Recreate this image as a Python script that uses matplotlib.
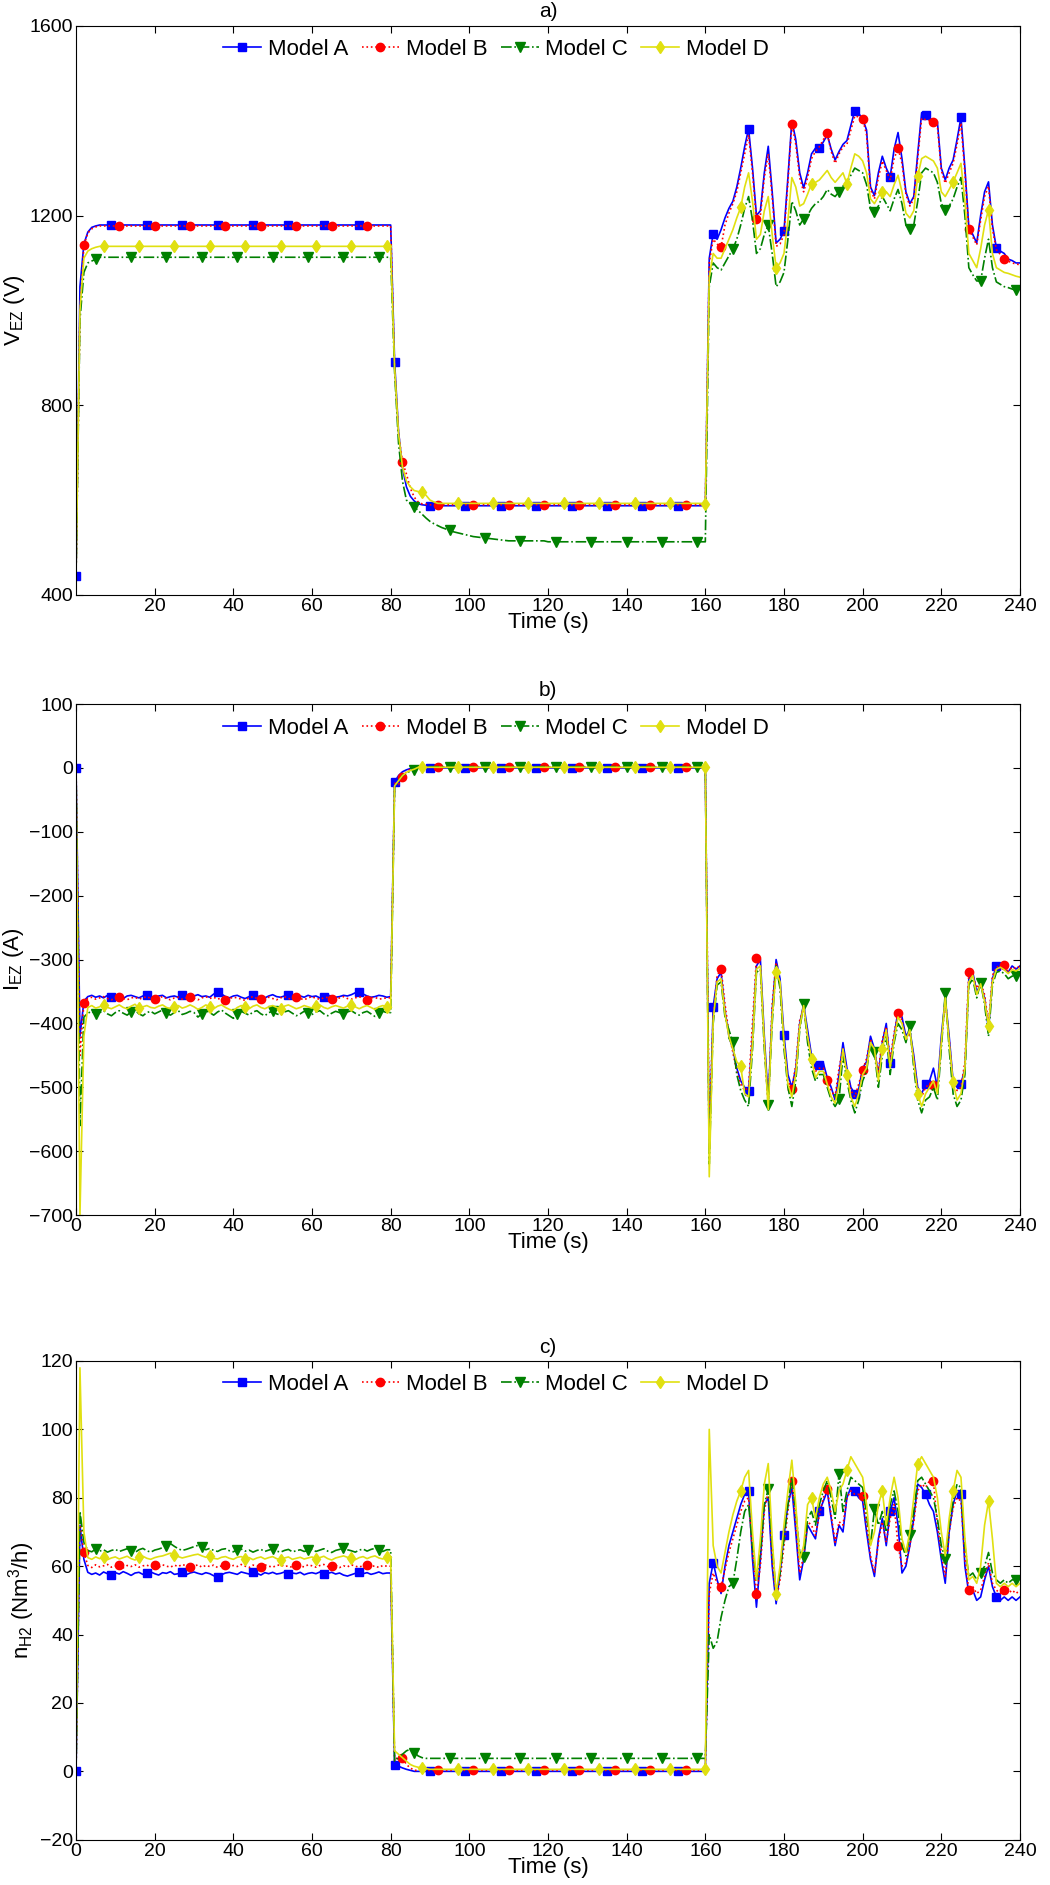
import matplotlib
matplotlib.use("Agg")
import matplotlib.pyplot as plt
import numpy as np

plt.rcParams['font.family'] = ['Liberation Sans', 'DejaVu Sans']
plt.rcParams['mathtext.fontset'] = 'custom'
plt.rcParams['mathtext.rm'] = 'Liberation Sans'
plt.rcParams['mathtext.it'] = 'Liberation Sans:italic'

# time grid, 1 s steps
time = np.arange(0, 241)

models = ['Model A', 'Model B', 'Model C', 'Model D']

# ---------------- a) stack voltage V_EZ (V) ----------------
va_A = ([440, 1050, 1140, 1165, 1175, 1178] + [1180] * 74
        + [1180, 892, 745, 668, 628, 608, 598, 592, 590, 589] + [588] * 70
        + [588, 1110, 1162, 1150, 1170, 1195, 1215, 1230, 1260, 1300,
           1345, 1383, 1300, 1200, 1210, 1290, 1346, 1250, 1142, 1150,
           1167, 1280, 1400, 1360, 1290, 1258, 1290, 1330, 1342, 1343,
           1355, 1370, 1340, 1317, 1335, 1350, 1358, 1390, 1421, 1415,
           1404, 1380, 1260, 1242, 1290, 1325, 1300, 1282, 1340, 1375,
           1320, 1250, 1225, 1240, 1330, 1417, 1412, 1405, 1400, 1398,
           1300, 1275, 1300, 1317, 1360, 1407, 1300, 1175, 1160, 1142,
           1200, 1250, 1271, 1180, 1132, 1125, 1120, 1108, 1105, 1100,
           1100])
va_B = ([440, 1000, 1137, 1163, 1172, 1176] + [1178] * 74
        + [1178, 880, 740, 680, 655, 625, 606, 596, 592, 591] + [590] * 70
        + [590, 1100, 1150, 1140, 1133, 1180, 1205, 1225, 1250, 1290,
           1330, 1370, 1290, 1192, 1200, 1280, 1330, 1240, 1135, 1140,
           1160, 1270, 1394, 1350, 1280, 1250, 1280, 1320, 1335, 1345,
           1360, 1373, 1335, 1310, 1330, 1345, 1350, 1380, 1410, 1408,
           1404, 1370, 1255, 1235, 1280, 1315, 1295, 1275, 1320, 1342,
           1310, 1245, 1220, 1235, 1320, 1405, 1402, 1400, 1398, 1390,
           1295, 1268, 1290, 1310, 1350, 1395, 1290, 1171, 1155, 1138,
           1190, 1240, 1262, 1172, 1128, 1118, 1108, 1104, 1100, 1098,
           1096])
va_C = ([440, 980, 1080, 1100, 1104, 1108] + [1112] * 74
        + [1112, 870, 720, 640, 600, 592, 586, 578, 570, 562,
           555, 550, 546, 542, 539, 536, 533, 531, 529, 527,
           525, 523, 522, 521, 520, 519, 518, 517, 516, 515] + [514] * 10 + [512] * 40
        + [512, 1050, 1100, 1090, 1085, 1100, 1115, 1129, 1150, 1180,
           1215, 1240, 1190, 1120, 1130, 1160, 1179, 1120, 1050, 1060,
           1080, 1150, 1230, 1210, 1180, 1193, 1200, 1215, 1225, 1230,
           1240, 1255, 1245, 1240, 1250, 1262, 1270, 1285, 1300, 1295,
           1290, 1265, 1215, 1208, 1220, 1240, 1225, 1210, 1235, 1255,
           1225, 1180, 1171, 1180, 1230, 1290, 1300, 1295, 1290, 1270,
           1225, 1212, 1220, 1235, 1260, 1280, 1200, 1090, 1075, 1062,
           1062, 1110, 1150, 1090, 1060, 1055, 1050, 1048, 1045, 1042,
           1040])
va_D = ([440, 1000, 1110, 1125, 1130, 1133] + [1135] * 74
        + [1135, 880, 740, 670, 640, 628, 620, 618, 617, 610, 600, 596] + [593] * 68
        + [592, 1070, 1120, 1110, 1110, 1130, 1150, 1170, 1195, 1217,
           1260, 1290, 1230, 1150, 1160, 1210, 1240, 1160, 1090, 1100,
           1120, 1190, 1280, 1260, 1220, 1225, 1245, 1267, 1270, 1275,
           1285, 1295, 1280, 1270, 1280, 1290, 1267, 1300, 1330, 1325,
           1315, 1290, 1235, 1225, 1240, 1250, 1250, 1240, 1265, 1285,
           1250, 1205, 1195, 1210, 1283, 1320, 1325, 1320, 1315, 1300,
           1250, 1240, 1255, 1271, 1290, 1310, 1230, 1120, 1105, 1090,
           1130, 1180, 1212, 1120, 1090, 1085, 1080, 1078, 1075, 1072,
           1070])

# ---------------- b) stack current I_EZ (A) ----------------
ib_A = ([0, -420, -365,
         -358, -356, -359, -357, -360, -356, -358,
         -357, -359, -361, -357, -356, -358, -360, -357, -355, -358,
         -359, -357, -356, -360, -358, -357, -359, -356, -358, -360,
         -357, -355, -358, -357, -359, -354, -351, -354, -358, -360,
         -357, -356, -359, -361, -358, -356, -357, -359, -360, -357,
         -355, -358, -359, -357, -356, -358, -360, -357, -359, -356,
         -358, -357, -360, -358, -356, -357, -359, -358, -356, -357,
         -355, -352, -351, -354, -357, -359, -358, -356, -357, -359]
        + [-358, -22, -12, -6, -3, -1] + [0] * 74
        + [0, -600, -374, -330, -320, -380, -420, -440, -470, -490,
           -500, -505, -420, -310, -300, -420, -520, -380, -300, -330,
           -418, -480, -500, -470, -400, -370, -410, -450, -470, -465,
           -462, -485, -500, -520, -480, -430, -470, -500, -510, -503,
           -470, -460, -420, -440, -480, -430, -400, -462, -420, -380,
           -390, -420, -410, -450, -500, -510, -495, -490, -470, -500,
           -420, -360, -420, -490, -500, -495, -470, -330, -320, -350,
           -340, -360, -410, -330, -310, -310, -315, -320, -310, -315,
           -310])
ib_B = ([0, -450, -368,
         -361, -359, -362, -360, -358, -361, -363,
         -360, -358, -361, -363, -360, -359, -362, -360, -358, -361,
         -362, -360, -358, -361, -363, -360, -359, -362, -360, -358,
         -361, -363, -360, -358, -361, -359, -362, -360, -363, -361,
         -359, -360, -362, -364, -360, -358, -361, -362, -360, -359,
         -361, -363, -360, -358, -361, -362, -359, -361, -363, -360,
         -358, -361, -362, -360, -359, -361, -363, -360, -358, -361,
         -362, -360, -358, -361, -363, -360, -359, -362, -361, -360]
        + [-360, -24, -26, -14, -6, -2] + [1] * 74
        + [1, -560, -390, -325, -314, -370, -415, -445, -475, -495,
           -505, -500, -400, -298, -310, -430, -530, -370, -305, -340,
           -430, -490, -503, -465, -395, -375, -420, -455, -475, -470,
           -470, -489, -505, -515, -470, -440, -475, -505, -515, -495,
           -473, -455, -425, -445, -475, -425, -405, -455, -415, -383,
           -395, -425, -415, -455, -505, -515, -500, -495, -497, -505,
           -430, -365, -425, -495, -505, -500, -460, -320, -325, -345,
           -335, -355, -400, -325, -312, -310, -309, -318, -312, -314,
           -310])
ib_C = ([0, -560, -390,
         -384, -381, -386, -383, -380, -385, -388,
         -383, -380, -384, -387, -382, -379, -385, -388, -383, -381,
         -385, -382, -379, -384, -387, -383, -380, -386, -384, -381,
         -383, -390, -385, -380, -383, -387, -382, -379, -384, -388,
         -392, -385, -381, -384, -387, -382, -380, -385, -388, -383,
         -381, -385, -387, -382, -380, -384, -388, -385, -381, -383,
         -386, -382, -380, -385, -388, -384, -381, -383, -386, -382,
         -380, -384, -387, -383, -381, -385, -389, -384, -381, -383]
        + [-383, -30, -20, -12, -8, -5, -3] + [2] * 73
        + [2, -620, -400, -340, -335, -390, -410, -429, -480, -505,
           -520, -530, -440, -320, -315, -440, -527, -400, -310, -345,
           -440, -500, -530, -490, -410, -369, -430, -470, -490, -480,
           -480, -500, -520, -530, -519, -450, -490, -520, -540, -520,
           -490, -475, -430, -445, -500, -450, -420, -480, -430, -400,
           -410, -430, -404, -470, -520, -540, -520, -515, -500, -520,
           -440, -352, -440, -510, -530, -520, -480, -340, -330, -360,
           -336, -370, -420, -340, -320, -318, -322, -330, -326, -325,
           -322])
ib_D = ([0, -700, -420,
         -375, -372, -376, -374, -371, -375, -377,
         -374, -371, -375, -377, -373, -370, -376, -374, -372, -375,
         -376, -373, -371, -375, -377, -374, -372, -376, -374, -371,
         -374, -378, -375, -371, -374, -377, -373, -371, -375, -378,
         -380, -375, -372, -374, -377, -373, -371, -375, -377, -374,
         -372, -375, -377, -373, -371, -374, -377, -375, -372, -374,
         -376, -373, -371, -375, -377, -374, -372, -374, -376, -373,
         -371, -374, -377, -374, -372, -375, -378, -374, -372, -374]
        + [-374, -28, -20, -12, -7, -4, -2] + [1] * 73
        + [1, -640, -395, -335, -330, -385, -420, -440, -460, -467,
           -510, -515, -430, -315, -310, -430, -535, -390, -320, -335,
           -430, -495, -515, -480, -405, -372, -420, -456, -485, -475,
           -475, -495, -515, -525, -495, -440, -480, -515, -530, -510,
           -480, -470, -430, -440, -490, -440, -410, -470, -425, -390,
           -400, -425, -410, -460, -510, -530, -510, -500, -490, -510,
           -430, -360, -430, -492, -520, -510, -470, -335, -325, -355,
           -338, -365, -404, -335, -315, -312, -316, -322, -316, -318,
           -314])

# ---------------- c) hydrogen flow n_H2 (Nm3/h) ----------------
nc_A = ([0, 72, 62,
         58.2, 57.6, 58.0, 57.4, 58.3, 57.8, 57.5,
         58.1, 57.7, 58.4, 57.9, 57.3, 58.0, 58.2, 57.6, 57.9, 58.3,
         57.8, 57.4, 58.1, 57.9, 58.4, 57.6, 57.8, 58.2, 57.5, 58.0,
         58.3, 57.9, 57.6, 58.1, 57.8, 57.2, 56.8, 57.5, 58.0, 58.2,
         57.9, 57.6, 58.3, 58.0, 57.7, 58.2, 57.9, 57.4, 58.1, 57.8,
         58.2, 57.7, 57.9, 58.3, 57.6, 58.0, 57.8, 58.2, 57.5, 57.9,
         58.1, 57.8, 58.3, 57.6, 57.9, 58.2, 57.7, 58.0, 57.4, 57.1,
         57.5, 57.9, 58.2, 57.8, 58.1, 57.6, 57.9, 58.3, 57.8, 58.0]
        + [58, 2, 1.5, 1, 0.6, 0.3] + [0] * 74
        + [0, 55, 61, 56, 52, 60, 66, 70, 74, 78,
           81, 82, 62, 48, 62, 78, 80, 60, 49, 58,
           69, 78, 83, 70, 56, 62, 72, 70, 68, 76,
           79, 82, 74, 66, 72, 70, 80, 83, 82, 80,
           79, 70, 62, 57, 68, 74, 66, 76, 80, 72,
           58, 60, 66, 74, 84, 83, 81, 78, 76, 70,
           62, 55, 70, 78, 82, 81, 60, 52, 53, 50,
           51, 56, 60, 54, 51, 50, 51, 50, 51, 50,
           51])
nc_B = ([0, 74, 64,
         60.2, 59.6, 60.4, 59.8, 60.1, 60.5, 59.7,
         60.0, 60.3, 59.5, 60.2, 59.9, 60.4, 59.7, 60.1, 60.3, 59.8,
         60.2, 59.6, 60.4, 60.0, 59.7, 60.3, 59.9, 60.5, 60.1, 59.8,
         60.0, 60.4, 59.7, 60.2, 59.9, 60.3, 59.6, 60.1, 60.4, 59.8,
         60.2, 59.9, 60.5, 60.0, 59.6, 60.3, 60.1, 59.8, 60.4, 60.0,
         59.7, 60.2, 60.4, 59.9, 60.1, 59.6, 60.3, 60.0, 59.8, 60.4,
         60.1, 59.7, 60.2, 60.5, 59.9, 60.0, 60.3, 59.6, 60.1, 59.8,
         60.4, 60.0, 59.7, 60.2, 60.3, 59.9, 60.1, 59.6, 60.2, 60.0]
        + [60, 3, 4.5, 4, 2, 1] + [0.3] * 74
        + [0.3, 52, 58, 55, 54, 59, 64, 68, 72, 76,
           79, 80, 64, 52, 60, 76, 82, 62, 50, 56,
           66, 76, 85, 72, 58, 63, 73, 72, 69, 75,
           80, 82.5, 75, 67, 73, 72, 80, 82, 81, 81,
           80.6, 72, 63, 58, 67, 73, 67, 74, 78, 66,
           60, 61, 66, 73, 82, 84, 83, 85, 85, 72,
           64, 57, 70, 77, 80, 79, 62, 53, 54, 52,
           53, 57, 61, 55, 53, 52, 53, 52, 53, 52,
           53])
nc_C = ([0, 76, 67,
         64.6, 64.2, 65.0, 64.4, 64.8, 64.1, 64.6,
         64.9, 64.3, 64.7, 65.1, 64.4, 64.0, 64.8, 65.2, 64.5, 64.1,
         64.7, 65.0, 65.4, 66.0, 66.6, 65.8, 65.1, 64.6, 64.9, 65.3,
         65.7, 66.1, 65.5, 64.8, 65.2, 64.6, 64.3, 64.9, 65.1, 64.5,
         64.2, 64.8, 65.0, 64.4, 64.7, 64.1, 64.6, 64.9, 64.3, 64.7,
         65.0, 64.4, 64.1, 64.6, 64.9, 64.2, 64.5, 64.8, 64.3, 64.6,
         64.9, 64.3, 64.7, 65.1, 64.4, 64.0, 64.6, 64.9, 65.3, 64.8,
         64.5, 64.1, 64.7, 65.0, 64.4, 64.9, 65.2, 64.6, 64.3, 64.8]
        + [64.8, 3, 4, 5, 6, 6.5, 5.5, 4.5, 4.0, 3.8] + [3.8] * 70
        + [3.8, 40, 36, 38, 45, 50, 54, 55, 62, 70,
           76, 78, 66, 56, 64, 78, 82.5, 66, 52, 58,
           68, 78, 86, 76, 64, 62.6, 74, 76, 72, 78,
           82, 85, 80, 74, 87, 76, 82, 86, 85, 84,
           83, 75, 66, 76.7, 72, 76, 70, 78, 82, 76,
           66, 63, 69, 76, 85, 86, 84, 82, 80, 74,
           66, 62, 72, 79, 84, 83, 66, 57, 58, 56,
           58, 60, 64, 58, 56, 55, 56, 55, 56, 56,
           56])
nc_D = ([0, 118, 70,
         62.5, 62.0, 62.7, 62.2, 62.6, 61.9, 62.4,
         62.7, 62.1, 62.5, 62.9, 62.2, 61.8, 62.6, 62.9, 62.3, 62.0,
         62.5, 62.8, 63.0, 63.4, 63.8, 63.2, 62.8, 62.4, 62.7, 63.0,
         63.3, 63.5, 63.0, 62.6, 62.9, 62.3, 62.1, 62.6, 62.8, 62.3,
         62.0, 62.6, 62.8, 62.2, 62.5, 61.9, 62.4, 62.7, 62.1, 62.5,
         62.8, 62.2, 61.9, 62.4, 62.7, 62.0, 62.3, 62.6, 62.1, 62.4,
         62.7, 62.1, 62.5, 62.9, 62.2, 61.8, 62.4, 62.7, 63.0, 62.6,
         62.3, 61.9, 62.5, 62.8, 62.2, 62.7, 63.0, 62.4, 62.1, 62.6]
        + [62.6, 6, 5, 4, 3, 2, 1.5, 1.2, 1.0, 0.8] + [0.6] * 70
        + [0.6, 100, 66, 60, 58, 64, 70, 75, 79, 82,
           86, 88, 70, 56, 68, 84, 90, 68, 52, 60,
           72, 82, 91, 78, 62, 66, 78, 80, 74, 80,
           84, 86, 82, 76, 82, 84, 88, 92, 90, 88,
           86, 78, 66, 70, 78, 82, 72, 80, 86, 80,
           68, 64, 70, 80, 90, 92, 90, 88, 86, 80,
           70, 63, 74, 82, 88, 86, 68, 56, 57, 55,
           60, 72, 79, 68, 55, 54, 55, 54, 55, 54,
           55])

# line styles, MATLAB-like
styles = [
    dict(color='#0000ff', ls='-', marker='s', ms=6, markevery=(0, 9)),
    dict(color='#ff0000', ls=':', marker='o', ms=6, markevery=(2, 9)),
    dict(color='#008000', ls='-.', marker='v', ms=7, markevery=(5, 9)),
    dict(color='#e0e010', ls='-', marker='d', ms=6, markevery=(7, 9)),
]

panels = [
    ('a)', [va_A, va_B, va_C, va_D], r'V$_{\rm EZ}$ (V)', (400, 1600), np.arange(400, 1601, 400),
     np.arange(20, 241, 20), [0.0724, 0.6844, 0.899, 0.3019], 0.958),
    ('b)', [ib_A, ib_B, ib_C, ib_D], r'I$_{\rm EZ}$ (A)', (-700, 100), np.arange(-700, 101, 100),
     np.arange(0, 241, 20), [0.0724, 0.3554, 0.899, 0.2711], 0.953),
    ('c)', [nc_A, nc_B, nc_C, nc_D], r'n$_{\rm H2}$ (Nm$^3$/h)', (-20, 120), np.arange(-20, 121, 20),
     np.arange(0, 241, 20), [0.0724, 0.024, 0.899, 0.254], 0.951),
]

fig = plt.figure(figsize=(10.5, 18.85), dpi=100)

for title, series, ylab, ylim, yticks, xticks, rect, leg_y in panels:
    ax = fig.add_axes(rect)
    for name, y, st in zip(models, series, styles):
        ax.plot(time, y, color=st['color'], linestyle=st['ls'], lw=1.2,
                marker=st['marker'], ms=st['ms'], mfc=st['color'], mec=st['color'],
                markevery=st['markevery'], label=name)
    ax.set_xlim(0, 240)
    ax.set_ylim(*ylim)
    ax.set_xticks(xticks)
    ax.set_yticks(yticks)
    ax.tick_params(direction='in', top=True, right=True, length=5, labelsize=14, pad=2)
    ax.set_xlabel('Time (s)', fontsize=16, labelpad=-2)
    ax.set_ylabel(ylab, fontsize=16, labelpad=2)
    ax.set_title(title, fontsize=15, pad=6)
    ax.legend(loc='center', bbox_to_anchor=(0.445, leg_y), ncol=4, frameon=False,
              fontsize=16, handlelength=1.7, handletextpad=0.3, columnspacing=0.6,
              numpoints=1, borderpad=0.1)

fig.savefig('out.png', dpi=100)
print("done")
